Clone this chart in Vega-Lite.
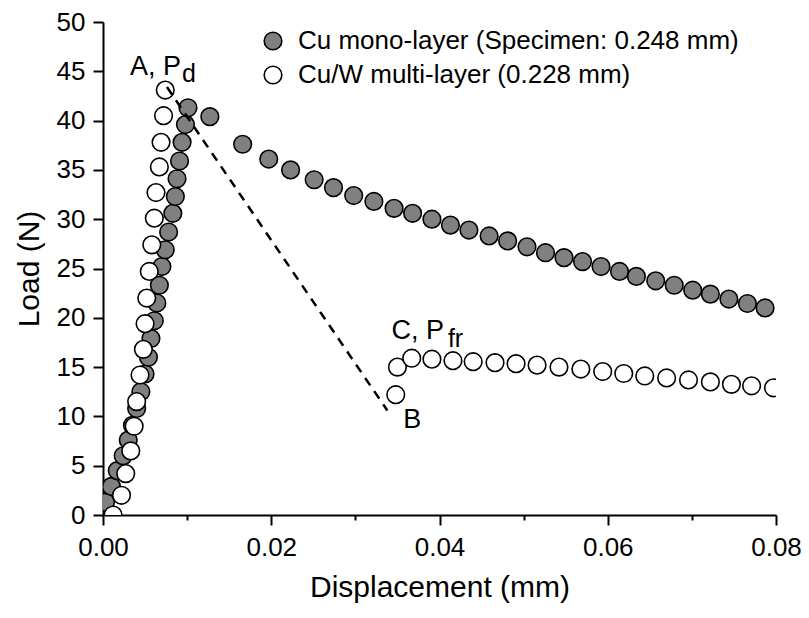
{
  "$schema": "https://vega.github.io/schema/vega-lite/v6.json",
  "width": 673,
  "height": 493,
  "autosize": {"type": "none"},
  "padding": {"left": 103, "top": 22, "right": 33, "bottom": 103},
  "background": "white",
  "config": {
    "view": {"stroke": null},
    "font": "Liberation Sans",
    "axis": {
      "domainColor": "black",
      "domainWidth": 2,
      "tickColor": "black",
      "tickWidth": 2,
      "labelColor": "black",
      "titleColor": "black",
      "labelFont": "Liberation Sans",
      "titleFont": "Liberation Sans",
      "labelFontSize": 26,
      "titleFontSize": 30,
      "titleFontWeight": "normal",
      "grid": false
    }
  },
  "datasets": {
    "pts": [
      {"d": 0.0003, "L": 1.3, "s": "Cu mono-layer (Specimen: 0.248 mm)"},
      {"d": 0.0010, "L": 2.9, "s": "Cu mono-layer (Specimen: 0.248 mm)"},
      {"d": 0.0017, "L": 4.5, "s": "Cu mono-layer (Specimen: 0.248 mm)"},
      {"d": 0.0024, "L": 6.0, "s": "Cu mono-layer (Specimen: 0.248 mm)"},
      {"d": 0.0030, "L": 7.6, "s": "Cu mono-layer (Specimen: 0.248 mm)"},
      {"d": 0.0035, "L": 9.1, "s": "Cu mono-layer (Specimen: 0.248 mm)"},
      {"d": 0.0040, "L": 10.8, "s": "Cu mono-layer (Specimen: 0.248 mm)"},
      {"d": 0.0045, "L": 12.5, "s": "Cu mono-layer (Specimen: 0.248 mm)"},
      {"d": 0.0050, "L": 14.3, "s": "Cu mono-layer (Specimen: 0.248 mm)"},
      {"d": 0.0054, "L": 16.0, "s": "Cu mono-layer (Specimen: 0.248 mm)"},
      {"d": 0.0057, "L": 17.9, "s": "Cu mono-layer (Specimen: 0.248 mm)"},
      {"d": 0.0061, "L": 19.7, "s": "Cu mono-layer (Specimen: 0.248 mm)"},
      {"d": 0.0064, "L": 21.5, "s": "Cu mono-layer (Specimen: 0.248 mm)"},
      {"d": 0.0067, "L": 23.3, "s": "Cu mono-layer (Specimen: 0.248 mm)"},
      {"d": 0.0070, "L": 25.2, "s": "Cu mono-layer (Specimen: 0.248 mm)"},
      {"d": 0.0074, "L": 26.9, "s": "Cu mono-layer (Specimen: 0.248 mm)"},
      {"d": 0.0078, "L": 28.7, "s": "Cu mono-layer (Specimen: 0.248 mm)"},
      {"d": 0.0083, "L": 30.6, "s": "Cu mono-layer (Specimen: 0.248 mm)"},
      {"d": 0.0086, "L": 32.3, "s": "Cu mono-layer (Specimen: 0.248 mm)"},
      {"d": 0.0088, "L": 34.1, "s": "Cu mono-layer (Specimen: 0.248 mm)"},
      {"d": 0.0091, "L": 35.9, "s": "Cu mono-layer (Specimen: 0.248 mm)"},
      {"d": 0.0094, "L": 37.8, "s": "Cu mono-layer (Specimen: 0.248 mm)"},
      {"d": 0.0098, "L": 39.6, "s": "Cu mono-layer (Specimen: 0.248 mm)"},
      {"d": 0.0101, "L": 41.3, "s": "Cu mono-layer (Specimen: 0.248 mm)"},
      {"d": 0.0127, "L": 40.4, "s": "Cu mono-layer (Specimen: 0.248 mm)"},
      {"d": 0.0166, "L": 37.6, "s": "Cu mono-layer (Specimen: 0.248 mm)"},
      {"d": 0.0197, "L": 36.1, "s": "Cu mono-layer (Specimen: 0.248 mm)"},
      {"d": 0.0223, "L": 35.0, "s": "Cu mono-layer (Specimen: 0.248 mm)"},
      {"d": 0.0251, "L": 34.0, "s": "Cu mono-layer (Specimen: 0.248 mm)"},
      {"d": 0.0274, "L": 33.2, "s": "Cu mono-layer (Specimen: 0.248 mm)"},
      {"d": 0.0298, "L": 32.4, "s": "Cu mono-layer (Specimen: 0.248 mm)"},
      {"d": 0.0322, "L": 31.8, "s": "Cu mono-layer (Specimen: 0.248 mm)"},
      {"d": 0.0346, "L": 31.1, "s": "Cu mono-layer (Specimen: 0.248 mm)"},
      {"d": 0.0368, "L": 30.6, "s": "Cu mono-layer (Specimen: 0.248 mm)"},
      {"d": 0.0391, "L": 30.0, "s": "Cu mono-layer (Specimen: 0.248 mm)"},
      {"d": 0.0413, "L": 29.4, "s": "Cu mono-layer (Specimen: 0.248 mm)"},
      {"d": 0.0435, "L": 28.9, "s": "Cu mono-layer (Specimen: 0.248 mm)"},
      {"d": 0.0459, "L": 28.3, "s": "Cu mono-layer (Specimen: 0.248 mm)"},
      {"d": 0.0481, "L": 27.8, "s": "Cu mono-layer (Specimen: 0.248 mm)"},
      {"d": 0.0504, "L": 27.2, "s": "Cu mono-layer (Specimen: 0.248 mm)"},
      {"d": 0.0526, "L": 26.6, "s": "Cu mono-layer (Specimen: 0.248 mm)"},
      {"d": 0.0548, "L": 26.1, "s": "Cu mono-layer (Specimen: 0.248 mm)"},
      {"d": 0.0570, "L": 25.7, "s": "Cu mono-layer (Specimen: 0.248 mm)"},
      {"d": 0.0592, "L": 25.2, "s": "Cu mono-layer (Specimen: 0.248 mm)"},
      {"d": 0.0614, "L": 24.7, "s": "Cu mono-layer (Specimen: 0.248 mm)"},
      {"d": 0.0634, "L": 24.2, "s": "Cu mono-layer (Specimen: 0.248 mm)"},
      {"d": 0.0657, "L": 23.75, "s": "Cu mono-layer (Specimen: 0.248 mm)"},
      {"d": 0.0679, "L": 23.3, "s": "Cu mono-layer (Specimen: 0.248 mm)"},
      {"d": 0.0701, "L": 22.8, "s": "Cu mono-layer (Specimen: 0.248 mm)"},
      {"d": 0.0722, "L": 22.4, "s": "Cu mono-layer (Specimen: 0.248 mm)"},
      {"d": 0.0744, "L": 21.9, "s": "Cu mono-layer (Specimen: 0.248 mm)"},
      {"d": 0.0766, "L": 21.45, "s": "Cu mono-layer (Specimen: 0.248 mm)"},
      {"d": 0.0787, "L": 21.0, "s": "Cu mono-layer (Specimen: 0.248 mm)"},
      {"d": 0.0012, "L": 0.0, "s": "Cu/W multi-layer (0.228 mm)"},
      {"d": 0.0022, "L": 2.0, "s": "Cu/W multi-layer (0.228 mm)"},
      {"d": 0.0027, "L": 4.2, "s": "Cu/W multi-layer (0.228 mm)"},
      {"d": 0.0033, "L": 6.5, "s": "Cu/W multi-layer (0.228 mm)"},
      {"d": 0.0037, "L": 9.0, "s": "Cu/W multi-layer (0.228 mm)"},
      {"d": 0.0040, "L": 11.5, "s": "Cu/W multi-layer (0.228 mm)"},
      {"d": 0.0044, "L": 14.2, "s": "Cu/W multi-layer (0.228 mm)"},
      {"d": 0.0048, "L": 16.8, "s": "Cu/W multi-layer (0.228 mm)"},
      {"d": 0.0050, "L": 19.4, "s": "Cu/W multi-layer (0.228 mm)"},
      {"d": 0.0052, "L": 22.0, "s": "Cu/W multi-layer (0.228 mm)"},
      {"d": 0.0055, "L": 24.7, "s": "Cu/W multi-layer (0.228 mm)"},
      {"d": 0.0058, "L": 27.4, "s": "Cu/W multi-layer (0.228 mm)"},
      {"d": 0.0061, "L": 30.1, "s": "Cu/W multi-layer (0.228 mm)"},
      {"d": 0.0063, "L": 32.7, "s": "Cu/W multi-layer (0.228 mm)"},
      {"d": 0.0067, "L": 35.3, "s": "Cu/W multi-layer (0.228 mm)"},
      {"d": 0.0069, "L": 37.8, "s": "Cu/W multi-layer (0.228 mm)"},
      {"d": 0.0072, "L": 40.5, "s": "Cu/W multi-layer (0.228 mm)"},
      {"d": 0.0074, "L": 43.1, "s": "Cu/W multi-layer (0.228 mm)"},
      {"d": 0.0348, "L": 12.2, "s": "Cu/W multi-layer (0.228 mm)"},
      {"d": 0.0350, "L": 15.0, "s": "Cu/W multi-layer (0.228 mm)"},
      {"d": 0.0367, "L": 15.9, "s": "Cu/W multi-layer (0.228 mm)"},
      {"d": 0.0391, "L": 15.8, "s": "Cu/W multi-layer (0.228 mm)"},
      {"d": 0.0416, "L": 15.65, "s": "Cu/W multi-layer (0.228 mm)"},
      {"d": 0.0440, "L": 15.55, "s": "Cu/W multi-layer (0.228 mm)"},
      {"d": 0.0466, "L": 15.45, "s": "Cu/W multi-layer (0.228 mm)"},
      {"d": 0.0491, "L": 15.35, "s": "Cu/W multi-layer (0.228 mm)"},
      {"d": 0.0516, "L": 15.2, "s": "Cu/W multi-layer (0.228 mm)"},
      {"d": 0.0542, "L": 15.0, "s": "Cu/W multi-layer (0.228 mm)"},
      {"d": 0.0568, "L": 14.8, "s": "Cu/W multi-layer (0.228 mm)"},
      {"d": 0.0594, "L": 14.55, "s": "Cu/W multi-layer (0.228 mm)"},
      {"d": 0.0619, "L": 14.35, "s": "Cu/W multi-layer (0.228 mm)"},
      {"d": 0.0644, "L": 14.1, "s": "Cu/W multi-layer (0.228 mm)"},
      {"d": 0.0670, "L": 13.9, "s": "Cu/W multi-layer (0.228 mm)"},
      {"d": 0.0696, "L": 13.7, "s": "Cu/W multi-layer (0.228 mm)"},
      {"d": 0.0722, "L": 13.5, "s": "Cu/W multi-layer (0.228 mm)"},
      {"d": 0.0747, "L": 13.25, "s": "Cu/W multi-layer (0.228 mm)"},
      {"d": 0.0771, "L": 13.1, "s": "Cu/W multi-layer (0.228 mm)"},
      {"d": 0.0797, "L": 12.9, "s": "Cu/W multi-layer (0.228 mm)"}
    ],
    "dash": [
      {"d": 0.0076, "L": 43.4},
      {"d": 0.0338, "L": 10.6}
    ],
    "labels": [
      {"d": 0.0032, "L": 44.6, "t": "A, P"},
      {"d": 0.0343, "L": 17.9, "t": "C, P"},
      {"d": 0.0357, "L": 8.8, "t": "B"}
    ],
    "subs": [
      {"d": 0.0094, "L": 43.9, "t": "d"},
      {"d": 0.0410, "L": 17.05, "t": "fr"}
    ]
  },
  "layer": [
    {
      "data": {"name": "pts"},
      "mark": {"type": "point", "shape": "circle", "filled": true, "stroke": "black", "strokeWidth": 1.6, "size": 310, "opacity": 1, "clip": true},
      "encoding": {
        "x": {
          "field": "d", "type": "quantitative",
          "scale": {"domain": [0, 0.08], "nice": false, "zero": false},
          "axis": {
            "title": "Displacement (mm)",
            "values": [0, 0.01, 0.02, 0.03, 0.04, 0.05, 0.06, 0.07, 0.08],
            "format": ".2f",
            "labelExpr": "round(datum.value*100) % 2 === 0 ? datum.label : ''",
            "tickSize": {"condition": {"test": "round(datum.value*100) % 2 === 0", "value": 10}, "value": 5},
            "labelPadding": 9,
            "titlePadding": 12,
            "labelFlush": false,
            "labelOverlap": false
          }
        },
        "y": {
          "field": "L", "type": "quantitative",
          "scale": {"domain": [0, 50], "nice": false, "zero": false},
          "axis": {
            "title": "Load (N)",
            "values": [0, 2.5, 5, 7.5, 10, 12.5, 15, 17.5, 20, 22.5, 25, 27.5, 30, 32.5, 35, 37.5, 40, 42.5, 45, 47.5, 50],
            "labelExpr": "datum.value % 5 === 0 ? datum.label : ''",
            "tickSize": {"condition": {"test": "datum.value % 5 === 0", "value": 10}, "value": 5},
            "labelPadding": 8,
            "titlePadding": 12,
            "labelFlush": false,
            "labelOverlap": false
          }
        },
        "fill": {
          "field": "s", "type": "nominal",
          "scale": {"domain": ["Cu mono-layer (Specimen: 0.248 mm)", "Cu/W multi-layer (0.228 mm)"], "range": ["#808080", "#ffffff"]},
          "legend": {
            "title": null,
            "orient": "none",
            "legendX": 157,
            "legendY": 6,
            "padding": 0,
            "symbolType": "circle",
            "symbolSize": 310,
            "symbolStrokeColor": "black",
            "symbolStrokeWidth": 1.6,
            "symbolOpacity": 1,
            "labelFontSize": 26,
            "labelFont": "Liberation Sans",
            "labelColor": "black",
            "labelLimit": 600,
            "labelOffset": 12,
            "rowPadding": 8
          }
        }
      }
    },
    {
      "data": {"name": "dash"},
      "mark": {"type": "line", "color": "black", "strokeWidth": 2.5, "strokeDash": [9, 7]},
      "encoding": {
        "x": {"field": "d", "type": "quantitative"},
        "y": {"field": "L", "type": "quantitative"}
      }
    },
    {
      "data": {"name": "labels"},
      "mark": {"type": "text", "align": "left", "baseline": "alphabetic", "fontSize": 27, "font": "Liberation Sans", "color": "black"},
      "encoding": {
        "x": {"field": "d", "type": "quantitative"},
        "y": {"field": "L", "type": "quantitative"},
        "text": {"field": "t"}
      }
    },
    {
      "data": {"name": "subs"},
      "mark": {"type": "text", "align": "left", "baseline": "alphabetic", "fontSize": 25, "font": "Liberation Sans", "color": "black"},
      "encoding": {
        "x": {"field": "d", "type": "quantitative"},
        "y": {"field": "L", "type": "quantitative"},
        "text": {"field": "t"}
      }
    }
  ]
}
